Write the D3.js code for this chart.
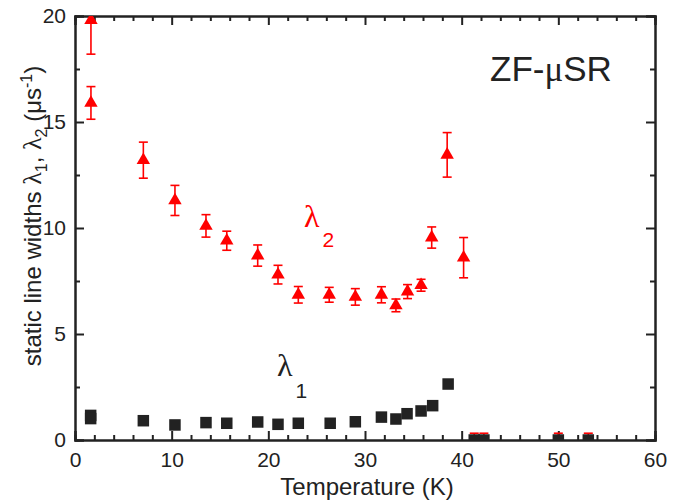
<!DOCTYPE html>
<html>
<head>
<meta charset="utf-8">
<script src="https://cdn.jsdelivr.net/npm/d3@7"></script>
<style>
  body { margin: 0; background: #fff; }
  svg { display: block; font-family: "Liberation Sans", Arial, sans-serif; }
  .axis path, .axis line { stroke: #222; }
  .axis text { fill: #222; }
</style>
</head>
<body>
<script>
// lambda 2 (red triangles): temperature, value, error
var tempL2 = [1.65, 1.65, 7.07, 10.34, 13.55, 15.7, 18.9, 21.0, 23.1, 26.3, 29.0, 31.7, 33.2, 34.4, 35.8, 36.9, 38.5, 40.2, 41.3, 42.3, 50.0, 53.1];
var valL2  = [19.8, 15.9, 13.2, 11.3, 10.1, 9.4, 8.7, 7.8, 6.85, 6.85, 6.75, 6.85, 6.35, 7.0, 7.3, 9.55, 13.45, 8.6, -0.1, -0.1, -0.1, -0.1];
var errL2  = [1.6, 0.77, 0.85, 0.71, 0.53, 0.45, 0.5, 0.44, 0.39, 0.35, 0.39, 0.38, 0.3, 0.33, 0.28, 0.5, 1.05, 0.95, 0.42, 0.42, 0.42, 0.42];

// lambda 1 (black squares)
var tempL1 = [1.62, 1.62, 7.07, 10.34, 13.55, 15.7, 18.9, 21.0, 23.1, 26.4, 29.0, 31.7, 33.2, 34.35, 35.8, 37.0, 38.6, 41.3, 42.3, 50.0, 53.1];
var valL1  = [1.16, 1.01, 0.91, 0.71, 0.82, 0.79, 0.85, 0.74, 0.79, 0.79, 0.86, 1.08, 0.99, 1.24, 1.37, 1.62, 2.64, 0, 0, 0, 0];
var errL1  = [0.05, 0.05, 0.05, 0.05, 0.05, 0.05, 0.05, 0.05, 0.05, 0.05, 0.05, 0.05, 0.05, 0.05, 0.05, 0.05, 0.15, 0.05, 0.05, 0.05, 0.05];

var xTicks = [0, 10, 20, 30, 40, 50, 60];
var yTicks = [0, 5, 10, 15, 20];

var margin = { top: 16, right: 34, bottom: 62, left: 75 },
    width = 689 - margin.left - margin.right,
    height = 502 - margin.top - margin.bottom;

var svg = d3.select("body").append("svg")
  .attr("width", 689)
  .attr("height", 502);

var g = svg.append("g")
  .attr("transform", "translate(" + margin.left + "," + margin.top + ")");

var x = d3.scaleLinear().domain([0, 60]).range([0, width]);
var y = d3.scaleLinear().domain([0, 20]).range([height, 0]);

g.append("clipPath").attr("id", "plot")
  .append("rect").attr("width", width).attr("height", height);

// minor ticks
var xMinor = d3.range(0, 61, 2).filter(function(d) { return d % 10 !== 0; });
var yMinor = d3.range(2.5, 20, 5);

function minor(axisFn, scale, vals) {
  return axisFn(scale).tickValues(vals).tickSize(-5).tickFormat("");
}

g.append("g").attr("class", "axis")
  .attr("transform", "translate(0," + height + ")")
  .call(minor(d3.axisBottom, x, xMinor));
g.append("g").attr("class", "axis")
  .call(minor(d3.axisTop, x, xMinor));
g.append("g").attr("class", "axis")
  .call(minor(d3.axisLeft, y, yMinor));
g.append("g").attr("class", "axis")
  .attr("transform", "translate(" + width + ",0)")
  .call(minor(d3.axisRight, y, yMinor));

// major ticks
var xAxis = g.append("g").attr("class", "axis")
  .attr("transform", "translate(0," + height + ")")
  .call(d3.axisBottom(x).tickValues(xTicks).tickSize(-9).tickPadding(12));
g.append("g").attr("class", "axis")
  .call(d3.axisTop(x).tickValues(xTicks).tickSize(-9).tickFormat(""));
var yAxis = g.append("g").attr("class", "axis")
  .call(d3.axisLeft(y).tickValues(yTicks).tickSize(-9).tickPadding(9));
g.append("g").attr("class", "axis")
  .attr("transform", "translate(" + width + ",0)")
  .call(d3.axisRight(y).tickValues(yTicks).tickSize(-9).tickFormat(""));

g.selectAll(".axis path").attr("stroke-width", 2);
g.selectAll(".axis line").attr("stroke-width", 2);
xAxis.selectAll("text").attr("font-size", 21).attr("font-family", "Liberation Sans, Arial, sans-serif");
yAxis.selectAll("text").attr("font-size", 21).attr("font-family", "Liberation Sans, Arial, sans-serif");

// data
var l2 = tempL2.map(function(t, i) { return { t: t, v: valL2[i], e: errL2[i] }; });
var l1 = tempL1.map(function(t, i) { return { t: t, v: valL1[i], e: errL1[i] }; });

var plot = g.append("g").attr("clip-path", "url(#plot)");

function errorBars(sel, data, color, capW) {
  var eb = sel.append("g").selectAll("g").data(data).enter().append("g")
    .attr("stroke", color).attr("stroke-width", 1.6);
  eb.append("line")
    .attr("x1", function(d) { return x(d.t); }).attr("x2", function(d) { return x(d.t); })
    .attr("y1", function(d) { return y(d.v + d.e); }).attr("y2", function(d) { return y(d.v - d.e); });
  eb.append("line")
    .attr("x1", function(d) { return x(d.t) - capW; }).attr("x2", function(d) { return x(d.t) + capW; })
    .attr("y1", function(d) { return y(d.v + d.e); }).attr("y2", function(d) { return y(d.v + d.e); });
  eb.append("line")
    .attr("x1", function(d) { return x(d.t) - capW; }).attr("x2", function(d) { return x(d.t) + capW; })
    .attr("y1", function(d) { return y(d.v - d.e); }).attr("y2", function(d) { return y(d.v - d.e); });
}

errorBars(plot, l2, "#ff0000", 4.5);
var tri = d3.symbol().type(d3.symbolTriangle).size(78);
plot.append("g").selectAll("path").data(l2).enter().append("path")
  .attr("d", tri)
  .attr("transform", function(d) { return "translate(" + x(d.t) + "," + y(d.v) + ")"; })
  .attr("fill", "#ff0000");

errorBars(plot, l1.filter(function(d) { return d.e > 0.1; }), "#222", 0);
plot.append("g").selectAll("rect").data(l1).enter().append("rect")
  .attr("x", function(d) { return x(d.t) - 5.75; })
  .attr("y", function(d) { return y(d.v) - 5.75; })
  .attr("width", 11.5).attr("height", 11.5)
  .attr("fill", "#222");

// annotations
var zf = svg.append("text")
  .attr("x", 490).attr("y", 81)
  .attr("font-size", 35).attr("fill", "#222");
zf.append("tspan").text("ZF-");
zf.append("tspan").attr("font-family", "Liberation Serif, serif").text("μ");
zf.append("tspan").text("SR");

var lab2 = svg.append("text").attr("x", 304).attr("y", 227).attr("fill", "#ff0000");
lab2.append("tspan").attr("font-family", "Liberation Serif, serif").attr("font-size", 32).text("λ");
lab2.append("tspan").attr("font-size", 21).attr("dx", 3).attr("dy", 20).text("2");

var lab1 = svg.append("text").attr("x", 277).attr("y", 376).attr("fill", "#222");
lab1.append("tspan").attr("font-family", "Liberation Serif, serif").attr("font-size", 32).text("λ");
lab1.append("tspan").attr("font-size", 21).attr("dx", 3).attr("dy", 22).text("1");

// axis titles
svg.append("text")
  .attr("x", 367).attr("y", 495)
  .attr("text-anchor", "middle")
  .attr("font-size", 24).attr("fill", "#222")
  .text("Temperature (K)");

var yl = svg.append("text")
  .attr("transform", "translate(41,216) rotate(-90)")
  .attr("text-anchor", "middle")
  .attr("font-size", 24).attr("fill", "#222");
yl.append("tspan").text("static line widths ");
yl.append("tspan").attr("font-family", "Liberation Serif, serif").attr("font-size", 26).text("λ");
yl.append("tspan").attr("font-size", 16).attr("dy", 6).text("1");
yl.append("tspan").attr("dy", -6).text(", ");
yl.append("tspan").attr("font-family", "Liberation Serif, serif").attr("font-size", 26).text("λ");
yl.append("tspan").attr("font-size", 16).attr("dy", 6).text("2");
yl.append("tspan").attr("dy", -6).text(" (μs");
yl.append("tspan").attr("font-size", 16).attr("dy", -9).text("-1");
yl.append("tspan").attr("dy", 9).text(")");
</script>
</body>
</html>
